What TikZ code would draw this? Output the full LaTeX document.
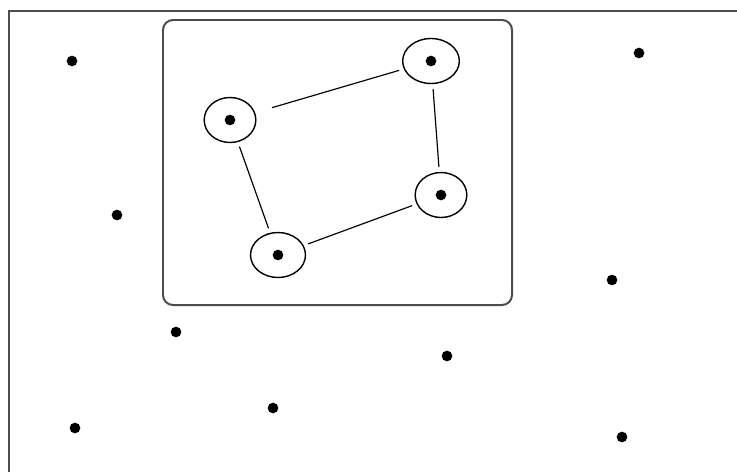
\documentclass[tikz,border=0pt]{standalone}
\usepackage{tikz}
\usetikzlibrary{shapes.geometric,positioning}

\begin{document}
\begin{tikzpicture}[
    x=0.03cm, y=-0.03cm,
    frame/.style={draw=black!70, line width=1.7pt},
    dot/.style={circle, fill=black, inner sep=0pt, minimum size=0.32cm},
    ring/.style={ellipse, draw, line width=1.2pt, inner sep=0pt, minimum width=1.55cm, minimum height=1.35cm},
    link/.style={draw, line width=1pt, shorten <=4pt, shorten >=4pt}
]
    \useasboundingbox (0,0) rectangle (737,472);

    % outer frame
    \draw[frame] (9,472) -- (9,11) -- (737,11);

    % selected region
    \draw[frame, rounded corners=0.3cm] (163,20) rectangle (512,305);

    % clustered points
    \node[ring] (a) at (230,120) {};
    \node[ring, minimum width=1.7cm] (b) at (431,61) {};
    \node[ring] (c) at (441,195) {};
    \node[ring, minimum width=1.65cm] (d) at (278,255) {};
    \foreach \n in {a,b,c,d}
        \node[dot] at (\n) {};

    \draw[link, shorten <=15pt] (a) -- (b);
    \draw[link] (b) -- (c);
    \draw[link] (c) -- (d);
    \draw[link] (d) -- (a);

    % remaining points
    \foreach \px/\py [count=\i] in {72/61, 639/53, 117/215, 612/280, 176/332, 447/356, 273/408, 75/428, 622/437}
        \node[dot] (p\i) at (\px,\py) {};
\end{tikzpicture}
\end{document}
